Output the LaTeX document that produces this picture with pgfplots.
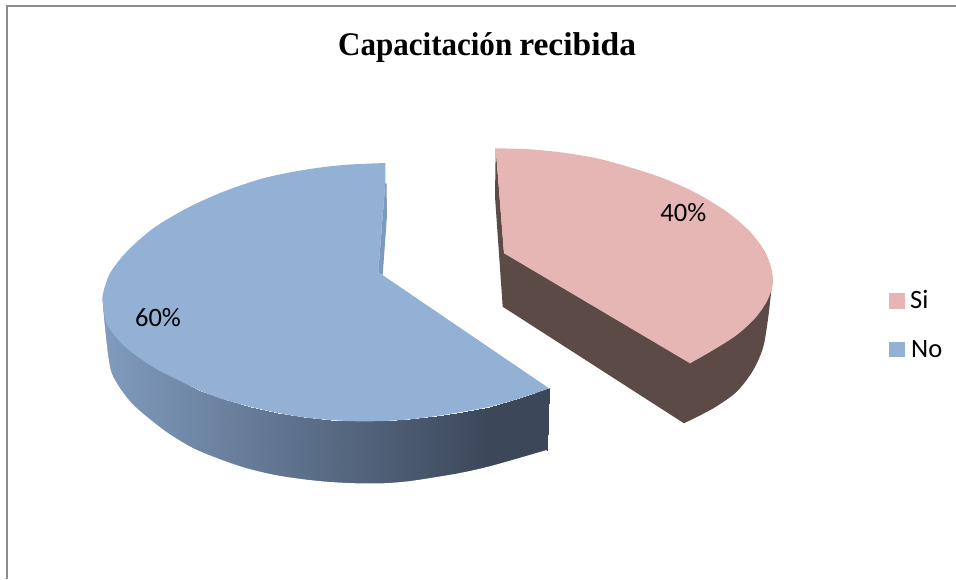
\documentclass[border=0pt]{standalone}
\usepackage{fontspec}
\setmainfont{Liberation Serif}
\newfontfamily\labfont{Carlito}
\usepackage{pgfplots}
\pgfplotsset{compat=1.18}
\definecolor{piepink}{RGB}{229,182,180}
\definecolor{piepinkside}{RGB}{92,74,71}
\definecolor{pieblue}{RGB}{147,176,213}
\definecolor{piebluein}{RGB}{125,153,190}
\definecolor{framegray}{RGB}{140,140,140}
\newcommand{\labsize}{\labfont\fontsize{26.5}{26.5}\selectfont}

\begin{document}
\begin{tikzpicture}
\begin{axis}[
  width=956pt, height=579pt, scale only axis,
  xmin=0, xmax=956, ymin=0, ymax=579, y dir=reverse,
  hide axis, clip=true,
  point meta min=103, point meta max=549,
  colormap={side}{rgb255(0pt)=(128,155,190); rgb255(385pt)=(60,72,90); rgb255(446pt)=(60,72,90)},
]
% page background and chart frame
\addplot[fill=white, draw=none] coordinates {(0,0)(956,0)(956,579)(0,579)} --cycle;
\addplot[framegray, line width=2pt] coordinates {(7,579)(7,6)(956,6)};

% Si 40%: straight part of the side, then its rounded rim
\addplot[fill=piepinkside, draw=none] coordinates {
 (495.7,148.3)(495,196.7)(502.7,306.7)(684,423.3)(735,365)(771.7,286.7)(504,253.3)} --cycle;
\addplot[fill=piepinkside, draw=none, smooth] coordinates {
 (684,423.3)(713.3,408.3)(736.7,391.7)(753.3,370)(763.3,346.7)(768.3,316.7)(771.7,286.7)} --cycle;
% top face: wedge plus rounded rim
\addplot[fill=piepink, draw=none] coordinates {
 (495.7,148.3)(640,230)(690,363.3)(504,253.3)} --cycle;
\addplot[fill=piepink, draw=none, smooth] coordinates {
 (495.7,148.3)(530,149.3)(563.3,152.7)(596.7,158.3)(630,167.3)(663.3,178.3)
 (696.7,193.3)(726.7,211.7)(750,231.7)(765,251.7)(771.7,270)(772.7,285)
 (766.7,301.7)(755,318.3)(736.7,335)(713.3,350)(690,363.3)} --cycle;

% No 60%: side wall, one quad per step along the rim, lower rim a little too long
\addplot[patch, patch type=rectangle, shader=interp, point meta=x] coordinates {
 (102.7,295)(103.3,306.7)(100,313)(102.7,295)
 (103.3,306.7)(105.7,321.7)(102,338)(100,313)
 (105.7,321.7)(111.7,331.7)(105,360)(102,338)
 (111.7,331.7)(118.3,340)(108,377)(105,360)
 (118.3,340)(126.7,348.3)(116,392)(108,377)
 (126.7,348.3)(140,358.3)(128,407)(116,392)
 (140,358.3)(156.7,369.3)(143,420)(128,407)
 (156.7,369.3)(176.7,379.3)(165,437)(143,420)
 (176.7,379.3)(200,390.7)(191,452)(165,437)
 (200,390.7)(223.3,399.3)(218,463)(191,452)
 (223.3,399.3)(250,406.7)(246,472)(218,463)
 (250,406.7)(276.7,412.7)(275,479)(246,472)
 (276.7,412.7)(303.3,417.3)(303.3,483)(275,479)
 (303.3,417.3)(330,420)(330,486)(303.3,483)
 (330,420)(356.7,421.3)(356.7,487)(330,486)
 (356.7,421.3)(383.3,421)(383.3,487)(356.7,487)
 (383.3,421)(410,419.3)(408.3,485)(383.3,487)
 (410,419.3)(436.7,416)(435,481)(408.3,485)
 (436.7,416)(463.3,411.7)(461.7,476)(435,481)
 (463.3,411.7)(490,406.7)(488.3,470)(461.7,476)
 (490,406.7)(520,398.3)(518.3,461)(488.3,470)
 (520,398.3)(549.3,388.3)(546.7,450)(518.3,461)
};
% white outside the lower rim trims the wall to a smooth curve
\fill[white] plot[smooth] coordinates {
 (102.7,295)(103.3,310)(105.7,335)(108.3,356.7)(111.7,373.3)(120,388.3)
 (131.7,403.3)(146.7,416.7)(168.3,433.3)(193.3,448.3)(220,459.3)(246.7,468.3)(275,475)
 (303.3,479.3)(330,482)(356.7,483.3)(383.3,483.3)(408.3,481.3)(435,477.3)(461.7,472.7)
 (488.3,466.7)(518.3,458.3)(546.7,450)} -- (547,520) -- (90,520) -- (90,295) -- cycle;
% top face: rim region, then the open notch in white
\addplot[fill=pieblue, draw=none, smooth] coordinates {
 (385.5,163)(343.3,165)(303.3,170)(263.3,178.3)(223.3,191.7)(186.7,208.3)
 (153.3,228.3)(126.7,251.7)(110,273.3)(102.7,295)(103.3,306.7)(105.7,321.7)
 (111.7,331.7)(118.3,340)(126.7,348.3)(140,358.3)(156.7,369.3)(176.7,379.3)
 (200,390.7)(223.3,399.3)(250,406.7)(276.7,412.7)(303.3,417.3)(330,420)
 (356.7,421.3)(383.3,421)(410,419.3)(436.7,416)(463.3,411.7)(490,406.7)
 (520,398.3)(549.3,388.3)} --cycle;
\addplot[fill=white, draw=none] coordinates {
 (385.5,163)(549.3,388.3)(382.7,275)(378.3,272.3)(385.3,183.3)} --cycle;
\addplot[white, line width=1.2pt] coordinates {(386.5,164.4)(548.3,386.9)};
\addplot[fill=piebluein, draw=none] coordinates {
 (385.3,183.3)(378.3,272.3)(382.7,275)(387,215)(386.5,183.3)} --cycle;

% legend keys
\addplot[fill=piepink, draw=none] coordinates {(889.3,293.3)(904.7,293.3)(904.7,308.7)(889.3,308.7)} --cycle;
\addplot[fill=pieblue, draw=none] coordinates {(889.3,342)(904.7,342)(904.7,356.7)(889.3,356.7)} --cycle;

\node[anchor=base west, inner sep=0pt] at (axis cs:338,55.7)
  {\fontsize{33}{33}\selectfont\bfseries\scalebox{0.94}[1]{Capacitación}\hspace{7pt}\scalebox{1.017}[1]{recibida}};
\node[font=\labsize, anchor=base, inner sep=0pt] at (axis cs:158,326.7) {60\%};
\node[font=\labsize, anchor=base, inner sep=0pt] at (axis cs:683.3,221.7) {40\%};
\node[font=\labsize, anchor=base west, inner sep=0pt] at (axis cs:910,308) {Si};
\node[font=\labsize, anchor=base west, inner sep=0pt] at (axis cs:911,357.3) {No};
\end{axis}
\end{tikzpicture}
\end{document}
